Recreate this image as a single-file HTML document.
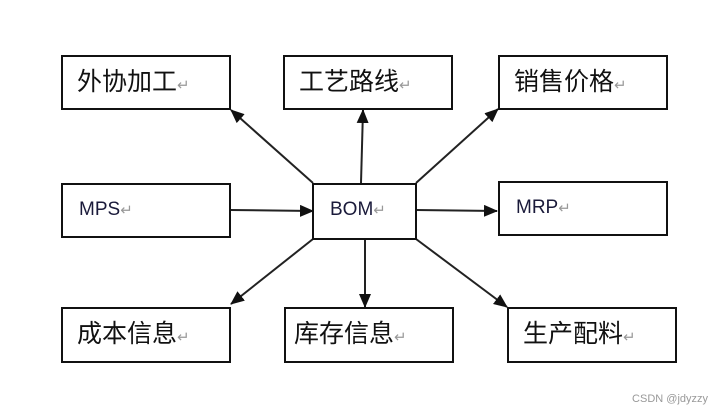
<!DOCTYPE html>
<html><head><meta charset="utf-8"><style>
html,body{margin:0;padding:0;background:#fff;width:714px;height:408px;overflow:hidden;position:relative}
.b{position:absolute;border:2px solid #111;box-sizing:border-box;background:#fff;font-family:"Liberation Sans","Noto Sans CJK SC",sans-serif;color:#111;white-space:nowrap}
.c{font-size:25px;line-height:50px;padding-left:14px}
.e{font-size:19px;line-height:50px;padding-left:16px;color:#1a1a3a}
.r{color:#999;font-size:15px}
.w{position:absolute;right:6px;bottom:3px;font-family:"Liberation Sans",sans-serif;font-size:11px;color:#999}
</style></head><body>
<svg width="714" height="408" style="position:absolute;left:0;top:0">
<defs><marker id="a" markerWidth="14" markerHeight="12" refX="13" refY="6" orient="auto" markerUnits="userSpaceOnUse"><path d="M0,0 L14,6 L0,12 z" fill="#111"/></marker></defs>
<g stroke="#222" stroke-width="2" marker-end="url(#a)">
<line x1="313" y1="183" x2="231" y2="110"/>
<line x1="361" y1="183" x2="363" y2="110"/>
<line x1="416" y1="183" x2="498" y2="109"/>
<line x1="416" y1="210" x2="497" y2="211"/>
<line x1="230" y1="210" x2="313" y2="211"/>
<line x1="365" y1="239" x2="365" y2="307"/>
<line x1="313" y1="239" x2="231" y2="304"/>
<line x1="416" y1="239" x2="507" y2="307"/>
</g></svg>
<div class="b c" style="left:61px;top:55px;width:170px;height:55px">外协加工<span class="r">↵</span></div>
<div class="b c" style="left:283px;top:55px;width:170px;height:55px">工艺路线<span class="r">↵</span></div>
<div class="b c" style="left:498px;top:55px;width:170px;height:55px">销售价格<span class="r">↵</span></div>
<div class="b e" style="left:61px;top:183px;width:170px;height:55px">MPS<span class="r">↵</span></div>
<div class="b e" style="left:312px;top:183px;width:105px;height:57px">BOM<span class="r">↵</span></div>
<div class="b e" style="left:498px;top:181px;width:170px;height:55px">MRP<span class="r">↵</span></div>
<div class="b c" style="left:61px;top:307px;width:170px;height:56px">成本信息<span class="r">↵</span></div>
<div class="b c" style="left:284px;top:307px;width:170px;height:56px;padding-left:8px">库存信息<span class="r">↵</span></div>
<div class="b c" style="left:507px;top:307px;width:170px;height:56px">生产配料<span class="r">↵</span></div>
<div class="w">CSDN @jdyzzy</div>
</body></html>
